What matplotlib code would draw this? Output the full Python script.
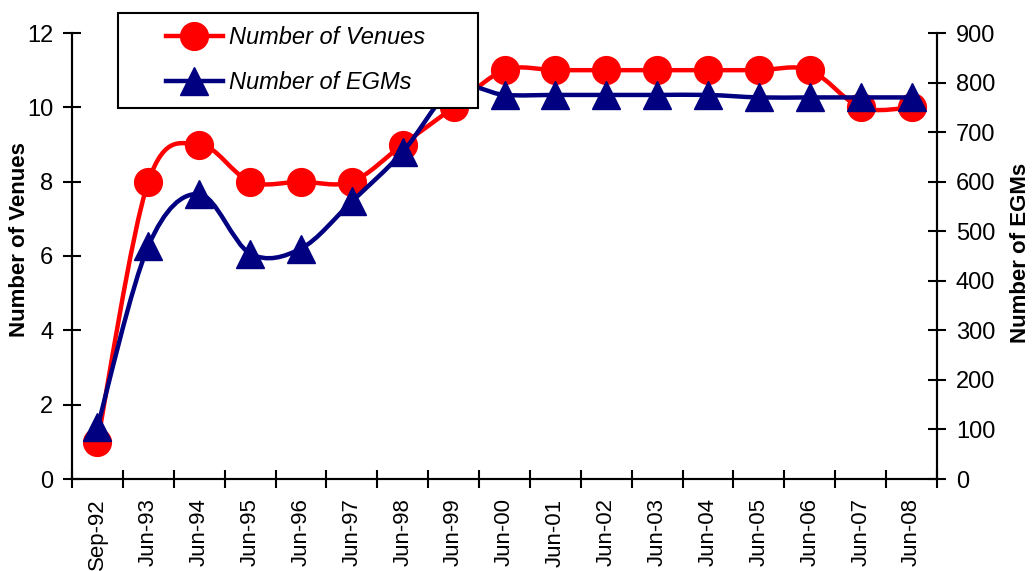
import matplotlib.pyplot as plt
from matplotlib.path import Path
from matplotlib.patches import PathPatch, Rectangle
from matplotlib.lines import Line2D
import numpy as np

plt.rcParams["font.family"] = ["Liberation Sans", "DejaVu Sans"]

periods = ["Sep-92", "Jun-93", "Jun-94", "Jun-95", "Jun-96", "Jun-97", "Jun-98",
           "Jun-99", "Jun-00", "Jun-01", "Jun-02", "Jun-03", "Jun-04", "Jun-05",
           "Jun-06", "Jun-07", "Jun-08"]
venues = [1, 8, 9, 8, 8, 8, 9, 10, 11, 11, 11, 11, 11, 11, 11, 10, 10]
egms = [105, 470, 575, 455, 465, 560, 660, 788, 775, 775, 775, 775, 775, 770,
        770, 770, 770]

RED = "#FF0000"
NAVY = "#000080"


# Excel-style smoothed line: Catmull-Rom segments as cubic Bezier curves
def smooth_path(xs, ys):
    pts = np.column_stack([xs, ys]).astype(float)
    n = len(pts)
    verts = [pts[0]]
    codes = [Path.MOVETO]
    for i in range(n - 1):
        p0 = pts[max(i - 1, 0)]
        p1 = pts[i]
        p2 = pts[i + 1]
        p3 = pts[min(i + 2, n - 1)]
        verts += [p1 + (p2 - p0) / 6, p2 - (p3 - p1) / 6, p2]
        codes += [Path.CURVE4] * 3
    return Path(verts, codes)


fig = plt.figure(figsize=(10.34, 5.71), dpi=100)
ax = fig.add_axes([72 / 1034, 92 / 571, 865 / 1034, 446 / 571])
ax2 = ax.twinx()

x = np.arange(len(periods))

ax.add_patch(PathPatch(smooth_path(x, venues), facecolor="none", edgecolor=RED,
                       lw=3.2, capstyle="round", joinstyle="round", zorder=2))
ax.plot(x, venues, "o", color=RED, ms=20, mec=RED, zorder=3, clip_on=False)

ax2.add_patch(PathPatch(smooth_path(x, egms), facecolor="none", edgecolor=NAVY,
                        lw=3.2, capstyle="round", joinstyle="round", zorder=2))
ax2.plot(x, egms, "^", color=NAVY, ms=20, mec=NAVY, zorder=3, clip_on=False)

ax.set_xlim(-0.5, len(periods) - 0.5)
ax.set_ylim(0, 12)
ax2.set_ylim(0, 900)
ax.set_yticks(range(0, 13, 2))
ax2.set_yticks(range(0, 901, 100))

# category boundaries carry the tick marks, labels sit between them
ax.set_xticks(np.arange(-0.5, len(periods), 1.0))
ax.set_xticklabels([])
ax.set_xticks(x, minor=True)
ax.set_xticklabels(periods, minor=True, rotation=90, fontsize=16)
ax.tick_params(axis="x", which="minor", length=0, pad=14)
ax.tick_params(axis="x", which="major", direction="inout", length=13, width=1.5)
ax.tick_params(axis="y", direction="inout", length=13, width=1.5, labelsize=17, pad=7)
ax2.tick_params(axis="y", direction="inout", length=13, width=1.5, labelsize=17, pad=7)

for a in (ax, ax2):
    a.spines["top"].set_visible(False)
    for s in ("left", "right", "bottom"):
        a.spines[s].set_linewidth(1.5)

fig.text(20 / 1034, 1 - 240 / 571, "Number of Venues", rotation=90, ha="center",
         va="center", fontsize=16, fontweight="bold")
fig.text(1021 / 1034, 1 - 253 / 571, "Number of EGMs", rotation=90, ha="center",
         va="center", fontsize=16, fontweight="bold")

# legend box
fig.patches.append(Rectangle((118 / 1034, 1 - 108 / 571), 360 / 1034, 95 / 571,
                             transform=fig.transFigure, facecolor="white",
                             edgecolor="black", lw=1.5, zorder=4))
handles = [
    Line2D([], [], color=RED, lw=3.2, marker="o", ms=20, mec=RED),
    Line2D([], [], color=NAVY, lw=3.2, marker="^", ms=20, mec=NAVY),
]
leg = fig.legend(handles, ["Number of Venues", "Number of EGMs"],
                 loc="upper left", bbox_to_anchor=(166 / 1034, 1 - 26 / 571),
                 frameon=False, borderpad=0, borderaxespad=0, handlelength=2.4,
                 handletextpad=0.25, labelspacing=0.95, markerscale=1,
                 prop={"style": "italic", "size": 17})
leg.set_zorder(5)

fig.savefig("out.png", dpi=100)
